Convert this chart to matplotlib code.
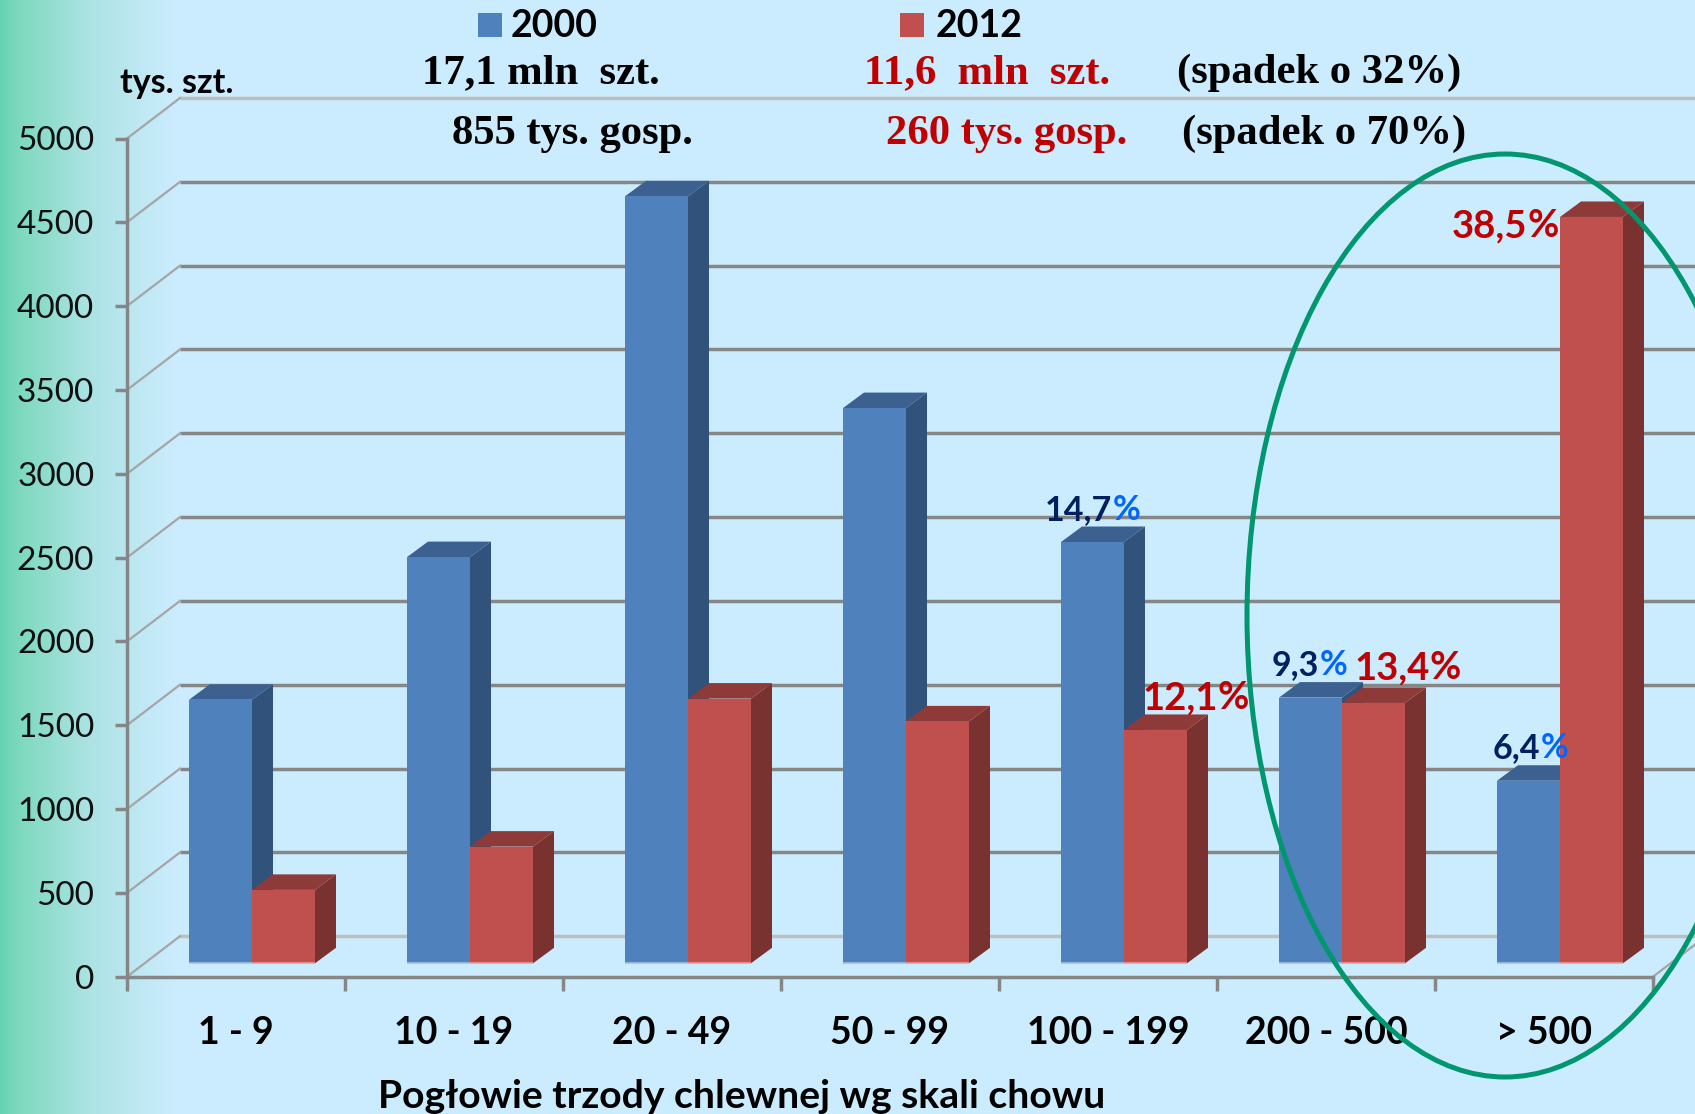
import numpy as np
import matplotlib
matplotlib.use('Agg')
import matplotlib.pyplot as plt
from matplotlib.colors import LinearSegmentedColormap
from matplotlib.patches import Ellipse, Polygon, Rectangle

plt.rcParams['font.family'] = ['Lato', 'DejaVu Sans']

categories = ['1 - 9', '10 - 19', '20 - 49', '50 - 99', '100 - 199', '200 - 500', '> 500']
values_2000 = [1572, 2423, 4575, 3312, 2513, 1585, 1089]
values_2012 = [438, 696, 1579, 1443, 1392, 1553, 4452]
y_ticks = [0, 500, 1000, 1500, 2000, 2500, 3000, 3500, 4000, 4500, 5000]
share_2000 = {4: '14,7', 5: '9,3', 6: '6,4'}
share_2012 = {4: '12,1', 5: '13,4', 6: '38,5'}

W, H = 1695, 1114
X0, X1, Y0, Y5000 = 127, 1653, 976.7, 138.5
GRID = '#868686'
NAVY, LIGHTBLUE, DARKRED = '#002060', '#0066FF', '#C00000'

fig = plt.figure(figsize=(W / 100, H / 100), dpi=100)

# background with the green fade on the left
bg = fig.add_axes([0, 0, 1, 1], zorder=0)
cmap = LinearSegmentedColormap.from_list('fade', [(0, '#66D3B1'), (0.12, '#7FD9BF'), (0.5, '#ABE3E3'), (1, '#CBECFE')])
bg.imshow(np.linspace(0, 1, 256)[None, :], cmap=cmap, aspect='auto', extent=[0, 175, 0, 1])
bg.add_patch(Rectangle((175, 0), W, 1, color='#CBECFE', lw=0))
bg.set_xlim(0, W)
bg.set_ylim(0, 1)
bg.axis('off')

ax = fig.add_axes([X0 / W, 1 - Y0 / H, (X1 - X0) / W, (Y0 - Y5000) / H], zorder=1)
ax.patch.set_visible(False)
ax.set_xlim(0, 7)
ax.set_ylim(0, 5000)

# pixels to data units
px = 7 / (X1 - X0)
py = 5000 / (Y0 - Y5000)

# back wall and side wall
back_x, back_y = 53 * px, 40.5 * py
for t in y_ticks:
    col = '#BEBEBE' if t in (0, 5000) else GRID
    ax.plot([back_x, 7 + back_x], [t + back_y, t + back_y], color=col, lw=2.5, clip_on=False, zorder=1,
            solid_capstyle='butt')
    ax.plot([0, back_x], [t, t + back_y], color='#A5A5A5', lw=1.6, clip_on=False, zorder=1)
ax.plot([7, 7 + back_x], [0, back_y], color='#A5A5A5', lw=1.6, clip_on=False, zorder=1)

# bars with their fake 3d faces
bar_w = 63 / (X1 - X0) * 7
shift_x, shift_y = 16 * px, 13.4 * py
depth_x, depth_y = 21 * px, 15.5 * py
x = np.arange(len(categories)) + 0.5 + shift_x


def draw_bar(left, v, front, side, top, foot, z):
    ax.add_patch(Polygon([(left + bar_w, shift_y), (left + bar_w + depth_x, shift_y + depth_y),
                          (left + bar_w + depth_x, shift_y + v + depth_y), (left + bar_w, shift_y + v)],
                         fc=side, ec='none', clip_on=False, zorder=z))
    ax.add_patch(Polygon([(left, shift_y + v), (left + depth_x, shift_y + v + depth_y),
                          (left + bar_w + depth_x, shift_y + v + depth_y), (left + bar_w, shift_y + v)],
                         fc=top, ec='none', clip_on=False, zorder=z))
    ax.bar(left, v, bar_w, bottom=shift_y, align='edge', color=front, lw=0, clip_on=False, zorder=z + 0.1)
    ax.plot([left, left + bar_w], [shift_y, shift_y], color=foot, lw=1.2, clip_on=False, zorder=z + 0.2,
            solid_capstyle='butt')


for i in range(len(categories)):
    z = 2 + i
    draw_bar(x[i] - bar_w, values_2000[i], '#4F81BD', '#31527B', '#3C6190', '#A9BFE0', z)
    draw_bar(x[i], values_2012[i], '#C0504D', '#7A3230', '#8E3A38', '#E99C9A', z + 0.4)

# axes
for s in ('top', 'right'):
    ax.spines[s].set_visible(False)
for s in ('left', 'bottom'):
    ax.spines[s].set_color(GRID)
    ax.spines[s].set_linewidth(2.5)
    ax.spines[s].set_zorder(1.5)
ax.set_yticks(y_ticks)
ax.set_yticklabels([str(t) for t in y_ticks], fontsize=24, color='#111111')
ax.tick_params(axis='y', length=8.6, width=2.5, color=GRID, pad=15)
ax.set_xticks(np.arange(8))
ax.set_xticklabels([])
ax.tick_params(axis='x', which='major', length=10, width=2.5, color=GRID)
ax.set_xticks(np.arange(7) + 0.5, minor=True)
ax.set_xticklabels(categories, minor=True, fontsize=27, fontweight='bold', color='black')
ax.tick_params(axis='x', which='minor', length=0, pad=28)

# overlay in picture pixels, y going down
ov = fig.add_axes([0, 0, 1, 1], zorder=2)
ov.set_xlim(0, W)
ov.set_ylim(H, 0)
ov.axis('off')

ov.add_patch(Ellipse((1505, 615.5), 516, 923, fc='none', ec='#00966E', lw=3.6, clip_on=True))

ov.text(120, 83, 'tys. szt.', fontsize=24.5, fontweight='bold', va='center', ha='left')
ov.text(742, 1097, 'Pogłowie trzody chlewnej wg skali chowu', fontsize=28.2, fontweight='bold',
        va='center', ha='center')

# legend
ov.add_patch(Rectangle((478, 13), 24, 24, color='#4F81BD', lw=0))
ov.add_patch(Rectangle((900, 13), 24, 24, color='#C0504D', lw=0))
ov.text(511, 26, '2000', fontsize=27, fontweight='bold', va='center')
ov.text(936, 26, '2012', fontsize=27, fontweight='bold', va='center')

# summary lines
serif = 'Liberation Serif'
for xp, yp, s, c in [(422, 73, '17,1 mln  szt.', 'black'), (864, 73, '11,6  mln  szt.', DARKRED),
                     (1177, 73, '(spadek o 32%)', 'black'), (452, 134, '855 tys. gosp.', 'black'),
                     (886, 134, '260 tys. gosp.', DARKRED), (1182, 134, '(spadek o 70%)', 'black')]:
    ov.text(xp, yp, s, family=serif, fontsize=30.7, fontweight='bold', color=c, va='center', ha='left')


# share labels, number dark and % sign in a lighter blue for 2000
def two_tone(xp, yp, num, c1, c2, size):
    t = ov.text(xp, yp, num, fontsize=size, fontweight='bold', color=c1, va='center', ha='left')
    ov.annotate('%', xy=(1, 0.5), xycoords=t, xytext=(0, 0), textcoords='offset points', fontsize=size,
                fontweight='bold', color=c2, va='center', ha='left')


label_pos_2000 = {4: (1045, 510), 5: (1272, 665), 6: (1493, 748)}
label_pos_2012 = {4: (1142, 698), 5: (1354, 668), 6: (1452, 226)}
for i, s in share_2000.items():
    two_tone(*label_pos_2000[i], s, NAVY, LIGHTBLUE, 24.5)
for i, s in share_2012.items():
    two_tone(*label_pos_2012[i], s, DARKRED, DARKRED, 27.5)

fig.savefig('out.png', dpi=100)
